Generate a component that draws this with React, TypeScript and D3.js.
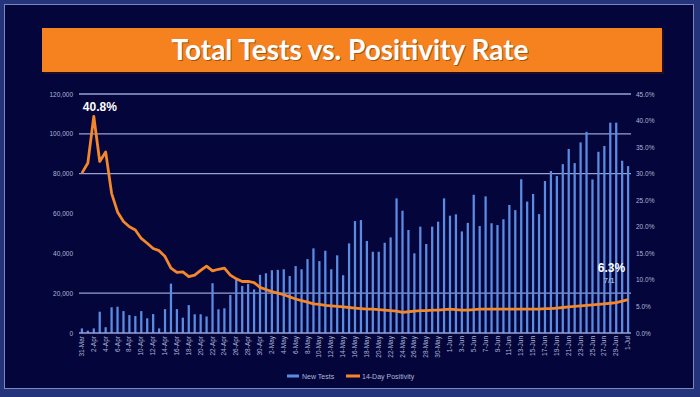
import * as d3 from "d3";
import { useEffect, useRef } from "react";

// daily categories, 31-Mar through 1-Jul
let startDay = new Date(2020, 2, 31);
let endDay = new Date(2020, 6, 2);

let newTests = [
	2300, 1200, 2300, 10700, 2900, 12900, 13200, 11000, 9000, 8500,
	11000, 7400, 9500, 2300, 12000, 24800, 12000, 7700, 14000, 9400,
	9400, 8300, 25000, 11900, 12400, 19100, 26900, 23600, 24700, 21900,
	29200, 30000, 31500, 31700, 32000, 28600, 33600, 32000, 37100, 42500,
	36100, 41300, 32000, 39000, 29000, 45000, 56200, 56700, 46200, 40800,
	40800, 45300, 48000, 67600, 61400, 51700, 40000, 53400, 44700, 53400,
	55900, 67600, 58900, 59600, 51000, 55300, 69400, 53700, 68600, 55100,
	54200, 57100, 64300, 61700, 77200, 66000, 69800, 59700, 76300, 81300,
	78800, 84800, 92400, 85300, 95700, 101000, 77100, 91000, 93900, 105600,
	105600, 86500, 83800,
];

let positivity = [
	30.1, 32.0, 40.8, 32.3, 34.1, 26.3, 22.8, 21.0, 20.0, 19.4,
	17.8, 16.9, 15.9, 15.5, 14.4, 12.2, 11.4, 11.5, 10.6, 10.9,
	11.8, 12.6, 11.7, 12.0, 12.2, 10.9, 10.2, 9.7, 9.7, 9.5,
	8.6, 8.2, 7.8, 7.5, 7.2, 6.8, 6.4, 6.1, 5.8, 5.5,
	5.4, 5.2, 5.1, 5.0, 4.9, 4.8, 4.7, 4.6, 4.5, 4.5,
	4.4, 4.3, 4.2, 4.1, 3.9, 4.0, 4.1, 4.2, 4.2, 4.3,
	4.3, 4.4, 4.5, 4.4, 4.3, 4.3, 4.4, 4.5, 4.5, 4.5,
	4.5, 4.5, 4.5, 4.5, 4.5, 4.5, 4.5, 4.5, 4.6, 4.6,
	4.7, 4.8, 4.9, 5.0, 5.1, 5.2, 5.3, 5.4, 5.5, 5.6,
	5.7, 6.0, 6.3,
];

let leftTicks = [0, 20000, 40000, 60000, 80000, 100000, 120000];
let rightTicks = [0, 0.05, 0.1, 0.15, 0.2, 0.25, 0.3, 0.35, 0.4, 0.45];
let gridValues = [20000, 80000, 100000, 120000];

let titleText = "Total Tests vs. Positivity Rate";
let legendItems = ["New Tests", "14-Day Positivity"];

let width = 700;
let height = 397;
let margin = { top: 94, right: 70, bottom: 64, left: 79 };

let barColor = "#5b8ce4";
let lineColor = "#f4862b";
let gridColor = "#97a2d2";
let labelColor = "#aeb6d8";

let days = d3.timeDay.range(startDay, endDay);
let fmtDay = d3.timeFormat("%-d-%b");

let rows = days.map((d, i) => ({
	date: d,
	tests: newTests[i],
	pos: positivity[i] / 100,
}));

let xScale = d3
	.scaleBand<Date>()
	.domain(days)
	.range([margin.left, width - margin.right + 1])
	.paddingInner(0.62)
	.paddingOuter(0.3);

let yLeft = d3
	.scaleLinear()
	.domain([0, 120000])
	.range([height - margin.bottom, margin.top]);

let yRight = d3
	.scaleLinear()
	.domain([0, 0.45])
	.range([height - margin.bottom, margin.top]);

let xMid = (d) => (xScale(d.date) ?? 0) + xScale.bandwidth() / 2;

let tickStyle = (g) =>
	g
		.selectAll("text")
		.attr("fill", labelColor)
		.style("font-size", "6.5px")
		.style("font-family", "Liberation Sans, Arial, sans-serif");

let LeftAxis = () => {
	let ref = useRef(null);
	useEffect(() => {
		let g = d3.select(ref.current);
		g.call(
			d3
				.axisLeft(yLeft)
				.tickValues(leftTicks)
				.tickSize(0)
				.tickPadding(0)
				.tickFormat(d3.format(","))
		);
		g.select(".domain").remove();
		tickStyle(g);
	}, []);
	return <g ref={ref} transform={`translate(${margin.left - 6},0)`} />;
};

let RightAxis = () => {
	let ref = useRef(null);
	useEffect(() => {
		let g = d3.select(ref.current);
		g.call(
			d3
				.axisRight(yRight)
				.tickValues(rightTicks)
				.tickSize(0)
				.tickPadding(0)
				.tickFormat(d3.format(".1%"))
		);
		g.select(".domain").remove();
		tickStyle(g);
	}, []);
	return <g ref={ref} transform={`translate(${width - margin.right + 6},0)`} />;
};

let BottomAxis = () => {
	let ref = useRef(null);
	useEffect(() => {
		let g = d3.select(ref.current);
		g.call(
			d3
				.axisBottom(xScale)
				.tickValues(days.filter((d, i) => i % 2 === 0))
				.tickSize(0)
				.tickPadding(0)
				.tickFormat(fmtDay)
		);
		g.select(".domain").remove();
		tickStyle(g)
			.style("text-anchor", "end")
			.attr("dy", "0.32em")
			.attr("y", 0)
			.attr("x", -3)
			.attr("transform", "rotate(-90)");
	}, []);
	return <g ref={ref} transform={`translate(0,${height - margin.bottom})`} />;
};

export default function App() {
	let last = rows[rows.length - 1];
	let peak = rows[2];

	let lineGen = d3
		.line<any>()
		.x((d) => xMid(d))
		.y((d) => yRight(d.pos));

	let x0 = margin.left;
	let x1 = width - margin.right + 1;

	return (
		<svg
			width={width}
			height={height}
			style={{ position: "absolute", left: 0, top: 0, display: "block" }}
		>
			{/* slide frame */}
			<rect x={0} y={0} width={width} height={height} fill="#24337a" />
			<rect x={4} y={4} width={690} height={385} fill="#7a88c2" />
			<rect x={5} y={5} width={688} height={383} fill="#04053a" />

			{/* title banner */}
			<rect x={44} y={30} width={620} height={44} fill="#3a1a10" opacity={0.5} />
			<rect x={42} y={28} width={620} height={44} fill="#f5821f" />
			<text
				x={351}
				y={61}
				textAnchor="middle"
				fill="#000"
				opacity={0.35}
				style={{ font: "bold 28px Lato, sans-serif" }}
			>
				{titleText}
			</text>
			<text
				x={350}
				y={60}
				textAnchor="middle"
				fill="#fff"
				style={{ font: "bold 28px Lato, sans-serif" }}
			>
				{titleText}
			</text>

			{/* grid */}
			<g stroke={gridColor} strokeWidth={1.4}>
				{gridValues.map((v) => (
					<line key={v} x1={x0} x2={x1} y1={yLeft(v)} y2={yLeft(v)} />
				))}
			</g>

			{/* bars */}
			<g fill={barColor}>
				{rows.map((d, i) => (
					<rect
						key={i}
						x={xScale(d.date)}
						y={yLeft(d.tests)}
						width={xScale.bandwidth()}
						height={yLeft(0) - yLeft(d.tests)}
					/>
				))}
			</g>

			<line
				x1={x0}
				x2={x1}
				y1={yLeft(0)}
				y2={yLeft(0)}
				stroke={gridColor}
				strokeWidth={1.4}
			/>

			{/* positivity line */}
			<path
				d={lineGen(rows) ?? ""}
				fill="none"
				stroke={lineColor}
				strokeWidth={2.8}
				strokeLinejoin="round"
			/>

			<LeftAxis />
			<RightAxis />
			<BottomAxis />

			{/* annotations */}
			<text
				x={xMid(peak) - 11}
				y={yRight(peak.pos) - 5}
				fill="#fff"
				style={{ font: "bold 12px 'Liberation Sans', Arial, sans-serif" }}
			>
				40.8%
			</text>
			<text
				x={xMid(last) - 3}
				y={yRight(last.pos) - 28}
				textAnchor="end"
				fill="#fff"
				style={{ font: "bold 12px 'Liberation Sans', Arial, sans-serif" }}
			>
				6.3%
			</text>
			<text
				x={xMid(last) - 19}
				y={yRight(last.pos) - 17}
				textAnchor="middle"
				fill="#cfd4ea"
				style={{ font: "8px 'Liberation Sans', Arial, sans-serif" }}
			>
				7/1
			</text>

			{/* legend */}
			<g style={{ font: "7px 'Liberation Sans', Arial, sans-serif" }} fill={labelColor}>
				<line x1={287} x2={299} y1={376} y2={376} stroke={barColor} strokeWidth={3} />
				<text x={302} y={378.5}>{legendItems[0]}</text>
				<line x1={346} x2={360} y1={376} y2={376} stroke={lineColor} strokeWidth={3} />
				<text x={362} y={378.5}>{legendItems[1]}</text>
			</g>
		</svg>
	);
}
